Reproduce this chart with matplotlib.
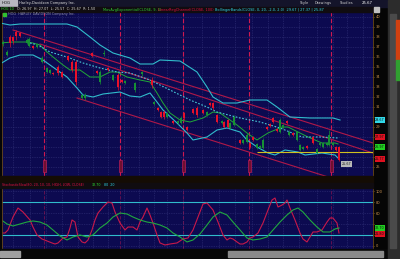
import numpy as np
import matplotlib.pyplot as plt
from matplotlib.patches import Rectangle
from matplotlib.transforms import blended_transform_factory

W, H = 400, 259

# candles: day index, open, high, low, close
bar_x = [3, 7, 10, 13, 16, 20, 27, 29, 33, 37, 42, 47, 50, 53, 58, 62, 68, 72, 76, 82,
         85, 92, 97, 100, 104, 108, 113, 118, 122, 125, 135, 142, 152, 154, 158, 161, 164, 167, 173, 178,
         181, 184, 187, 193, 197, 203, 207, 210, 213, 217, 222, 224, 228, 230, 234, 240, 243, 247, 250, 253,
         257, 260, 263, 267, 270, 273, 277, 280, 283, 287, 289, 293, 297, 300, 303, 307, 313, 317, 320, 323,
         327, 329, 333, 336, 339]
opens = [37.27, 36.17, 37.97, 37.97, 38.47, 38.37, 37.37, 37.07, 37.07, 36.97, 35.47, 34.47, 34.37, 34.37, 34.97,
         34.47, 36.07, 35.47, 35.47, 31.87, 31.87, 36.37, 34.57, 33.47, 36.27, 34.87, 33.67, 34.17, 33.67, 33.37,
         32.67, 34.27, 33.67, 31.27, 30.87, 30.47, 30.47, 29.97, 29.57, 29.37, 29.37, 30.37, 28.97, 30.77, 30.87,
         30.67, 30.17, 31.37, 31.37, 30.17, 29.37, 29.47, 29.67, 28.87, 29.17, 27.67, 27.37, 27.47, 27.37, 27.97,
         26.87, 26.87, 26.87, 28.97, 29.27, 29.87, 28.77, 28.47, 28.87, 29.57, 28.17, 28.37, 27.67, 26.67, 26.77,
         27.07, 27.97, 26.37, 27.17, 26.97, 27.17, 27.17, 27.17, 26.97, 26.97]
highs = [37.67, 36.67, 38.17, 38.07, 38.67, 38.47, 37.87, 37.97, 37.17, 37.37, 36.07, 34.97, 34.77, 34.47, 35.17,
         34.57, 36.17, 35.67, 35.67, 32.27, 32.37, 36.47, 34.67, 34.67, 36.67, 34.97, 34.27, 34.37, 33.77, 33.67,
         33.47, 34.57, 33.97, 31.57, 30.97, 30.57, 30.67, 30.47, 29.67, 29.67, 30.07, 30.47, 29.07, 30.87, 31.07,
         30.77, 30.57, 31.47, 31.47, 30.27, 29.67, 29.57, 29.77, 29.47, 30.17, 27.77, 27.77, 28.37, 27.47, 28.07,
         27.37, 27.17, 27.87, 29.07, 29.37, 29.97, 28.87, 29.87, 29.27, 29.67, 28.67, 28.47, 28.57, 27.27, 27.07,
         27.17, 28.07, 26.87, 27.47, 27.47, 27.47, 28.67, 27.47, 27.07, 27.07]
lows = [37.07, 36.07, 36.97, 37.27, 37.67, 37.97, 37.27, 36.97, 36.77, 36.87, 35.37, 34.37, 34.27, 34.17, 34.17,
        33.87, 35.57, 34.47, 33.17, 31.77, 31.67, 35.97, 34.27, 33.27, 36.07, 34.57, 33.57, 32.67, 33.37, 33.27,
        32.47, 34.07, 32.87, 31.17, 30.57, 29.87, 29.77, 29.87, 29.27, 29.27, 29.27, 29.67, 28.57, 30.27, 29.97,
        30.27, 30.07, 31.07, 30.67, 29.37, 29.27, 28.87, 28.87, 28.77, 29.07, 27.27, 27.27, 27.37, 26.87, 27.57,
        26.77, 26.77, 26.77, 28.67, 28.97, 29.37, 28.47, 28.37, 28.77, 29.27, 28.07, 28.07, 27.57, 26.57, 26.67,
        26.77, 27.27, 26.27, 27.07, 26.87, 27.07, 27.07, 27.07, 26.57, 25.57]
closes = [37.47, 36.47, 37.37, 37.57, 38.07, 38.07, 37.67, 37.77, 36.87, 37.27, 35.87, 34.87, 34.67, 34.27, 34.37,
          33.97, 35.67, 34.67, 33.47, 32.17, 32.17, 36.07, 34.37, 34.47, 36.37, 34.67, 34.17, 32.97, 33.47, 33.57,
          33.37, 34.47, 33.17, 31.47, 30.67, 29.97, 29.97, 30.37, 29.37, 29.57, 29.87, 29.87, 28.67, 30.37, 30.17,
          30.37, 30.47, 31.17, 30.87, 29.47, 29.57, 28.97, 28.97, 29.37, 29.97, 27.37, 27.67, 28.17, 26.97, 27.67,
          27.27, 27.07, 27.67, 28.77, 29.07, 29.47, 28.57, 29.67, 29.17, 29.37, 28.47, 28.17, 28.47, 27.17, 26.97,
          26.87, 27.37, 26.77, 27.37, 27.37, 27.37, 28.17, 27.37, 26.67, 25.67]

# bollinger bands and averages
upper_x = [0, 10, 20, 35, 55, 67, 77, 90, 100, 113, 130, 140, 153, 160, 180, 197, 207, 213, 223, 237,
           250, 267, 277, 290, 310, 333, 340]
upper_y = [39.37, 39.17, 39.27, 39.27, 39.27, 39.27, 38.97, 37.97, 37.17, 36.37, 35.87, 35.27, 35.27, 35.67,
           35.57, 34.47, 32.97, 31.97, 31.37, 31.37, 31.67, 31.67, 30.97, 29.97, 29.87, 29.87, 29.67]
lower_x = [0, 10, 20, 33, 43, 57, 67, 77, 83, 93, 103, 120, 130, 140, 150, 157, 163, 177, 187, 193,
           207, 217, 227, 240, 247, 257, 268, 275, 285, 298, 305, 322, 335, 338]
lower_y = [35.27, 35.87, 36.17, 36.17, 35.67, 34.67, 33.97, 32.87, 32.17, 31.97, 32.27, 32.47, 32.07, 31.97,
           32.37, 31.47, 30.67, 29.37, 28.37, 27.67, 27.97, 28.67, 28.87, 28.47, 27.67, 26.97, 26.37, 26.17,
           26.67, 26.47, 26.17, 26.37, 26.17, 25.87]
mid_x = [0, 13, 27, 33, 40, 47, 53, 63, 70, 80, 90, 100, 110, 117, 127, 140, 150, 157, 163, 170, 180, 190,
         203, 213, 220, 230, 237, 247, 257, 268, 282, 288, 298, 308, 322, 335, 338]
mid_y = [37.37, 37.47, 37.47, 37.37, 37.17, 36.47, 35.97, 35.17, 34.67, 34.67, 33.97, 33.97, 34.47, 34.47,
         33.97, 33.67, 33.47, 32.37, 31.37, 30.37, 29.67, 29.47, 29.87, 30.47, 30.37, 29.67, 29.17, 28.37,
         27.67, 28.37, 28.97, 28.97, 28.47, 27.97, 27.37, 27.37, 27.27]
ema_x = [30, 38, 50, 67, 83, 100, 117, 130, 150, 170, 190, 207, 217, 240, 260, 280, 302, 320, 338]
ema_y = [37.37, 37.17, 36.47, 35.97, 35.37, 34.87, 34.47, 34.37, 33.67, 32.67, 31.67, 30.97, 30.47, 29.87,
         29.47, 28.87, 27.97, 27.97, 27.87]

# trend channel lines (start, end)
chan_upper1 = [(13, 38.67), (373, 27.37)]
chan_upper2 = [(40, 37.27), (373, 26.37)]
chan_lower = [(77, 31.87), (340, 23.60)]
support_level = 26.52
support_start = 257

earnings_x = [44, 120, 183, 249, 331]

# stochastic panel
stoch_k_x = [0, 5, 8, 13, 18, 23, 30, 33, 37, 42, 47, 52, 55, 58, 63, 67, 70, 72, 75, 78, 82, 85, 88, 92,
             95, 98, 103, 108, 112, 115, 120, 125, 128, 133, 137, 140, 143, 147, 150, 153, 157, 160, 165,
             170, 177, 183, 188, 193, 198, 203, 207, 213, 218, 223, 227, 230, 233, 237, 240, 243, 247, 250,
             253, 258, 263, 268, 272, 275, 278, 282, 285, 287, 290, 295, 300, 303, 307, 310, 313, 317, 322,
             327, 330, 333, 337, 339]
stoch_k = [23.6, 23.6, 29.1, 52.7, 69.1, 61.8, 47.3, 34.5, 20.0, 12.7, 9.1, 5.5, 3.6, 5.5, 14.5, 16.4, 32.7,
           47.3, 43.6, 16.4, 7.3, 5.5, 10.9, 29.1, 47.3, 60.0, 70.9, 80.0, 78.2, 61.8, 41.8, 29.1, 34.5, 34.5,
           29.1, 43.6, 52.7, 69.1, 56.4, 41.8, 20.0, 5.5, 1.8, 3.6, 5.5, 12.7, 14.5, 29.1, 52.7, 76.4, 78.2,
           65.5, 43.6, 20.0, 10.9, 14.5, 12.7, 7.3, 3.6, 3.6, 7.3, 14.5, 16.4, 23.6, 41.8, 65.5, 83.6, 87.3,
           70.9, 74.5, 78.2, 83.6, 69.1, 47.3, 23.6, 12.7, 7.3, 16.4, 25.5, 25.5, 29.1, 43.6, 50.9, 50.9, 41.8,
           23.6]
stoch_d_x = [0, 7, 13, 20, 27, 33, 40, 47, 53, 60, 67, 73, 80, 87, 93, 100, 107, 113, 120, 127, 133, 140,
             147, 153, 160, 167, 173, 180, 187, 193, 200, 207, 213, 220, 227, 233, 240, 247, 253, 260, 267,
             273, 280, 287, 293, 298, 303, 310, 317, 323, 330, 335, 339]
stoch_d = [49.1, 40.0, 36.4, 40.0, 43.6, 45.5, 43.6, 38.2, 29.1, 18.2, 10.9, 16.4, 20.0, 16.4, 20.0, 32.7,
           41.8, 52.7, 60.0, 58.2, 52.7, 47.3, 43.6, 41.8, 38.2, 32.7, 23.6, 16.4, 7.3, 10.9, 21.8, 38.2, 52.7,
           61.8, 56.4, 43.6, 29.1, 14.5, 10.9, 12.7, 16.4, 29.1, 43.6, 56.4, 65.5, 69.1, 61.8, 47.3, 34.5,
           25.5, 25.5, 30.9, 32.7]
overbought, oversold = 80, 20

date_x = [13, 30, 46, 62, 78, 93, 108, 124, 139, 154, 167, 183, 202, 219, 235, 252, 268, 283, 299, 317,
          333, 347, 363]
date_labels = ['Jun', '16', 'Jul', '16', 'Aug', '16', 'Sep', '16', 'Oct', '16', 'Nov', '16', 'Dec', '16',
               'Jan', '16', 'Feb', '16', 'Mar', '16', 'Apr', '16', 'May']

price_ticks = list(range(25, 41))
price_tags = [(29.67, '29.67', '#30d8e8'), (27.97, '27.97', '#e01020'),
              (26.97, '26.97', '#20d020'), (25.77, '25.77', '#e01020')]
stoch_ticks = [0, 20, 40, 60, 80, 100]
stoch_tags = [(32.7, '32.70', '#20d020'), (21.8, '21.80', '#e01020')]

navy = '#0c0a50'
gridc = '#34347c'
axc = '#c89050'


def box(x0, y0, x1, y1):
    return [x0 / W, 1 - y1 / H, (x1 - x0) / W, (y1 - y0) / H]


def rect(x0, y0, x1, y1, color, **kw):
    fig.patches.append(Rectangle((x0 / W, 1 - y1 / H), (x1 - x0) / W, (y1 - y0) / H,
                                 transform=fig.transFigure, color=color, zorder=0, **kw))


def ftxt(px, py, s, color, size=3.0, **kw):
    fig.text(px / W, 1 - py / H, s, color=color, fontsize=size, va='center', ha='left', **kw)


def tick_labels(ticks, tags, gap):
    # the value tags cover the axis labels right under them
    out = []
    for t in ticks:
        hidden = any(abs(t - v) < gap for v, _, _ in tags)
        out.append('' if hidden else str(t))
    return out


fig = plt.figure(figsize=(4, 2.59), dpi=100, facecolor='#050505')

# frame pieces
rect(0, 0, 400, 7, '#14142a')
rect(0, 0, 17, 6, '#b8b8c0')
rect(0, 7, 373, 12, '#100c10')
rect(0, 176, 373, 183, '#140c04')
rect(0, 183, 373, 188, '#100c10')
rect(0, 249, 400, 259, '#080808')
rect(228, 251, 383, 257, '#8a8a8a')
rect(0, 251, 20, 257, '#a0a0a0')
rect(388, 0, 400, 259, '#2c2c2c')
rect(390, 14, 396, 248, '#4a4a4a')
rect(396, 20, 400, 60, '#d04010')
rect(396, 60, 400, 80, '#30a030')
rect(374, 7, 379, 12, '#c0c0c0')

# header text
ftxt(19, 3, 'Harley-Davidson Company Inc.', '#e0e0e0', 2.6)
ftxt(2, 3, 'HOG', '#101010', 2.8)
ftxt(300, 3, 'Style', '#d0d0d0', 2.6)
ftxt(315, 3, 'Drawings', '#d0d0d0', 2.6)
ftxt(340, 3, 'Studies', '#d0d0d0', 2.6)
ftxt(362, 3, '25.67', '#ffffff', 2.8)
ftxt(1, 9.5, 'HOG 1D', '#30e030', 2.3)
ftxt(17, 9.5, 'O: 26.97  H: 27.07  L: 25.57  C: 25.67  R: 1.50', '#d8d8d8', 2.4)
ftxt(103, 9.5, 'MovAvgExponential(CLOSE, 9, 0)', '#30d030', 2.5)
ftxt(158, 9.5, 'LinearRegChannel(CLOSE, 100)', '#e01040', 2.5)
ftxt(215, 9.5, 'BollingerBands(CLOSE, 0, 20, -2.0, 2.0)  29.67 | 27.37 | 25.87', '#30d8e8', 2.5)
ftxt(2, 185.5, 'StochasticSlow(80, 20, 10, 10, HIGH, LOW, CLOSE)', '#e01040', 2.3)
ftxt(92, 185.5, '32.70', '#30e030', 2.3)
ftxt(104, 185.5, '80  20', '#30d8e8', 2.3)
rect(3, 13, 6, 16, '#30c030')
ftxt(8, 14.5, 'HOG  HARLEY DAVIDSON Company Inc.', '#9090a8', 2.4)

# main price panel
ax = fig.add_axes(box(2, 12, 373, 176), facecolor=navy)
ax.set_xlim(2, 373)
ax.set_ylim(24.07, 40.47)
ax.set_yticks(price_ticks, tick_labels(price_ticks, price_tags, 0.6))
ax.yaxis.tick_right()
ax.set_xticks(date_x, date_labels)
ax.tick_params(axis='both', labelsize=2.6, colors=axc, length=1, width=0.4, pad=1)
ax.tick_params(axis='x', length=0, pad=1.5)
ax.grid(True, color=gridc, linestyle=(0, (1, 1.5)), linewidth=0.5)
for s in ax.spines.values():
    s.set_color('#6a4818')
    s.set_linewidth(0.6)

for ex in earnings_x:
    ax.axvline(ex, color='#d01850', linestyle=(0, (4, 2)), linewidth=0.8, zorder=2)
ax.bar(earnings_x, 1.2, bottom=24.47, width=3, color='#701030', edgecolor='#d02060', linewidth=0.4, zorder=3)

for (xa, ya), (xb, yb) in [chan_upper1, chan_upper2, chan_lower]:
    ax.plot([xa, xb], [ya, yb], color='#b01848', linewidth=0.8, zorder=3)

ax.plot(upper_x, upper_y, color='#30bccc', linewidth=0.8, zorder=4)
ax.plot(lower_x, lower_y, color='#30bccc', linewidth=0.8, zorder=4)
ax.plot(mid_x, mid_y, color='#20a838', linewidth=0.7, zorder=4)
ax.plot(ema_x, ema_y, color='#48c8d8', linewidth=0.8, linestyle=(0, (1.5, 1.5)), zorder=4)
ax.hlines(support_level, support_start, 373, color='#d0c020', linewidth=0.8, zorder=4)

bx = np.array(bar_x)
o = np.array(opens)
c = np.array(closes)
colors = np.where(c >= o, '#169034', '#e8102a')
ax.vlines(bx, lows, highs, colors=colors, linewidth=0.5, zorder=5)
ax.bar(bx, np.maximum(np.abs(c - o), 0.06), bottom=np.minimum(o, c), width=1.8,
       color=colors, linewidth=0, zorder=6)

ax.text(342, 25.17, '25.67', fontsize=2.4, color='#202020', zorder=7,
        bbox=dict(fc='#b8b8b8', ec='none', pad=0.4))

tr = blended_transform_factory(ax.transAxes, ax.transData)
for val, lab, col in price_tags:
    ax.text(1.006, val, lab, transform=tr, fontsize=2.4, color='#101010', va='center',
            clip_on=False, zorder=8, bbox=dict(fc=col, ec='none', pad=0.4))

# stochastic panel
ax2 = fig.add_axes(box(2, 188, 373, 249), facecolor=navy)
ax2.set_xlim(2, 373)
ax2.set_ylim(-5.5, 105.5)
ax2.set_yticks(stoch_ticks, tick_labels(stoch_ticks, stoch_tags, 9))
ax2.yaxis.tick_right()
ax2.set_xticks(date_x)
ax2.tick_params(axis='both', labelsize=2.6, colors=axc, length=1, width=0.4, pad=1)
ax2.tick_params(axis='x', length=0, labelbottom=False)
ax2.grid(True, color=gridc, linestyle=(0, (1, 1.5)), linewidth=0.5)
for s in ax2.spines.values():
    s.set_color('#6a4818')
    s.set_linewidth(0.6)

for ex in earnings_x:
    ax2.axvline(ex, color='#d01850', linestyle=(0, (4, 2)), linewidth=0.6, alpha=0.5)
ax2.axhline(overbought, color='#30bccc', linewidth=0.8)
ax2.axhline(oversold, color='#30bccc', linewidth=0.8)
ax2.plot(stoch_k_x, stoch_k, color='#c8184a', linewidth=0.8)
ax2.plot(stoch_d_x, stoch_d, color='#20a840', linewidth=0.8)

tr2 = blended_transform_factory(ax2.transAxes, ax2.transData)
for val, lab, col in stoch_tags:
    ax2.text(1.006, val, lab, transform=tr2, fontsize=2.4, color='#101010', va='center',
             clip_on=False, zorder=8, bbox=dict(fc=col, ec='none', pad=0.4))

fig.savefig('out.png', dpi=100, facecolor=fig.get_facecolor())
